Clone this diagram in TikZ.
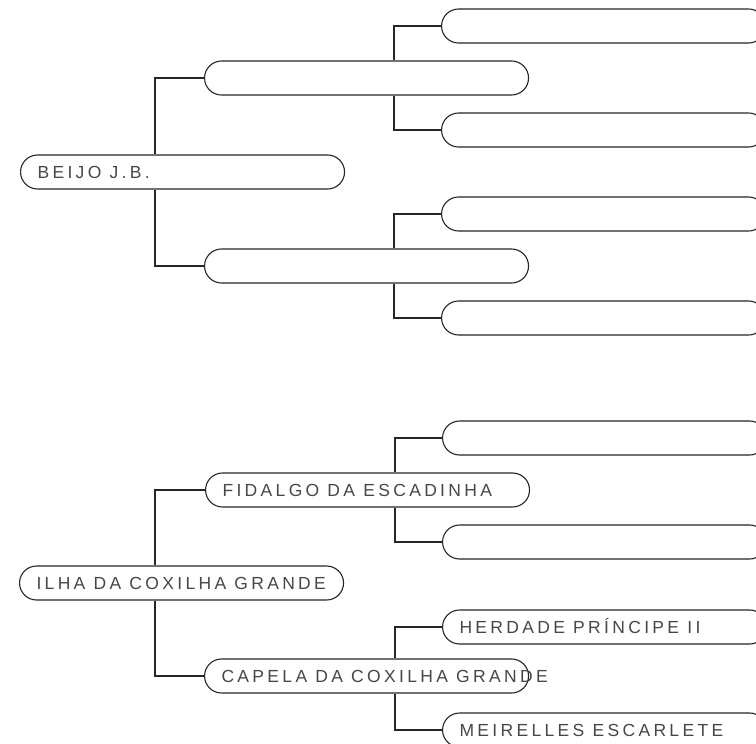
\documentclass[tikz,border=0pt]{standalone}
\usepackage{fontspec}
\setmainfont[LetterSpace=19]{Liberation Sans}
\begin{document}
\begin{tikzpicture}[x=1pt, y=-1pt,
  horse/.style={draw=black!85, line width=1.1pt, fill=white, rounded corners=17pt,
    minimum height=34pt, inner xsep=17pt, inner ysep=0pt, text height=12.5pt, text depth=0pt,
    anchor=west, font=\fontsize{17.5}{17.5}\selectfont, text=black!72},
  link/.style={draw=black!85, line width=1.1pt}]
\useasboundingbox (0,0) rectangle (756,744);
% Set the box width
\def\boxw{290pt}

% Upper pedigree
\node[horse] (beijo) at (20,172) {\makebox[\boxw][l]{BEIJO J.B.}};
\node[horse] (sire) at (204,78) {\makebox[\boxw][l]{}};
\node[horse] (dam) at (204,266) {\makebox[\boxw][l]{}};
\node[horse] (siresire) at (441,26) {\makebox[\boxw][l]{}};
\node[horse] (siredam) at (441,130) {\makebox[\boxw][l]{}};
\node[horse] (damsire) at (441,214) {\makebox[\boxw][l]{}};
\node[horse] (damdam) at (441,318) {\makebox[\boxw][l]{}};
\draw[link] (sire.west) -| ([xshift=135pt]beijo.north west);
\draw[link] (dam.west) -| ([xshift=135pt]beijo.south west);
\draw[link] (siresire.west) -| ([xshift=190pt]sire.north west);
\draw[link] (siredam.west) -| ([xshift=190pt]sire.south west);
\draw[link] (damsire.west) -| ([xshift=190pt]dam.north west);
\draw[link] (damdam.west) -| ([xshift=190pt]dam.south west);

% Lower pedigree
\node[horse] (ilha) at (19,583) {\makebox[\boxw][l]{ILHA DA COXILHA GRANDE}};
\node[horse] (fidalgo) at (205,490) {\makebox[\boxw][l]{FIDALGO DA ESCADINHA}};
\node[horse] (capela) at (204,676) {\makebox[\boxw][l]{CAPELA DA COXILHA GRANDE}};
\node[horse] (fidalgosire) at (442,438) {\makebox[\boxw][l]{}};
\node[horse] (fidalgodam) at (442,542) {\makebox[\boxw][l]{}};
\node[horse] (herdade) at (442,627) {\makebox[\boxw][l]{HERDADE PRÍNCIPE II}};
\node[horse] (meirelles) at (442,730) {\makebox[\boxw][l]{MEIRELLES ESCARLETE}};
\draw[link] (fidalgo.west) -| ([xshift=136pt]ilha.north west);
\draw[link] (capela.west) -| ([xshift=136pt]ilha.south west);
\draw[link] (fidalgosire.west) -| ([xshift=190pt]fidalgo.north west);
\draw[link] (fidalgodam.west) -| ([xshift=190pt]fidalgo.south west);
\draw[link] (herdade.west) -| ([xshift=191pt]capela.north west);
\draw[link] (meirelles.west) -| ([xshift=191pt]capela.south west);
\end{tikzpicture}
\end{document}
